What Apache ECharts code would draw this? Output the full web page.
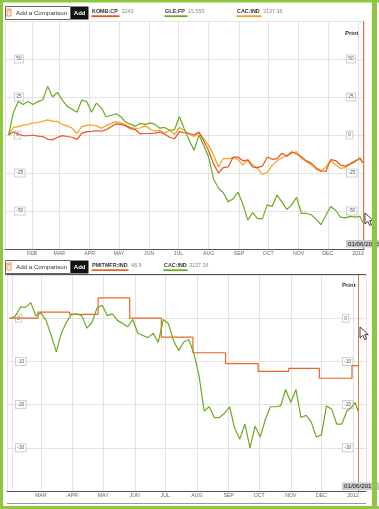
<!DOCTYPE html>
<html><head><meta charset="utf-8">
<script src="https://cdn.jsdelivr.net/npm/echarts@6/dist/echarts.min.js"></script>
<style>html,body{margin:0;padding:0;background:#fff;}#c{width:379px;height:509px;}</style>
</head><body><div id="c"></div>
<script>
// ---------- DATA ----------
const topDates = ['2011-01-08','2011-01-13','2011-01-18','2011-01-23','2011-01-28','2011-02-02','2011-02-07','2011-02-12','2011-02-17','2011-02-22','2011-02-27','2011-03-04','2011-03-09','2011-03-14','2011-03-19','2011-03-24','2011-03-29','2011-04-03','2011-04-08','2011-04-13','2011-04-18','2011-04-23','2011-04-28','2011-05-03','2011-05-08','2011-05-13','2011-05-18','2011-05-23','2011-05-28','2011-06-02','2011-06-07','2011-06-12','2011-06-17','2011-06-22','2011-06-27','2011-07-02','2011-07-07','2011-07-12','2011-07-17','2011-07-22','2011-07-27','2011-08-01','2011-08-06','2011-08-11','2011-08-16','2011-08-21','2011-08-26','2011-08-31','2011-09-05','2011-09-10','2011-09-15','2011-09-20','2011-09-25','2011-09-30','2011-10-05','2011-10-10','2011-10-15','2011-10-20','2011-10-25','2011-10-30','2011-11-04','2011-11-09','2011-11-14','2011-11-19','2011-11-24','2011-11-29','2011-12-04','2011-12-09','2011-12-14','2011-12-19','2011-12-24','2011-12-29','2012-01-03','2012-01-06'];
const kombValues = [0,2,0.5,-0.5,-0.5,0,-0.8,-1,-2.8,-3.2,-1.5,-0.4,-1,-1.5,-2.9,1.1,2.2,2.4,2.8,2.5,3.5,5.5,7.3,7,6,4.2,3.5,0.8,1,1,1.2,2,0.5,-1.5,-2.5,2.2,1.5,1,0,2,-4,-10.5,-19,-25,-21.5,-21,-14.5,-14.5,-17,-16.5,-21,-21.5,-20.5,-14.5,-16,-15.5,-12,-14,-11,-12.5,-14.3,-17,-18.5,-21.5,-23.5,-24,-16.2,-16.8,-19.8,-20.5,-19,-17.5,-15.2,-18.5];
const gleValues = [0,15,22,20,22,20,22,23,32,25,28,23,19,17,15,23,22,15,21,18,12,13,14,12,8.5,7,5.8,7.7,7,8,7,4.5,5,3,3.5,12,4,-3.5,-10,0,-7,-14.5,-29,-35,-38,-44,-42,-37.5,-45.5,-56,-51,-55,-55,-46,-47,-39.5,-44,-49,-46,-41,-51.5,-51.5,-52.5,-55.5,-59,-53,-47,-49.5,-54,-54.5,-53.5,-54,-53.5,-57.5];
const cacTopValues = [0,5,5.5,6.5,7,7.9,8.2,9,9.9,9,9,7,6,4.5,1,5.5,6.3,6.6,6,4.5,6.3,7.5,8.8,7.8,6.8,5,4.4,4.6,6,4,2.5,3,1.2,3.2,0.3,5,3,0.5,-1,1.5,-2.5,-7,-13,-21,-15.5,-15.5,-15,-16,-20,-16,-19.5,-22,-26,-24.5,-20,-17,-15,-13.5,-12,-11,-15.5,-17.5,-19.5,-22.5,-24,-21,-16.8,-19.7,-22,-21.5,-19,-17,-15.5,-18];

const bottomDates = ['2011-01-30','2011-02-04','2011-02-09','2011-02-14','2011-02-19','2011-02-24','2011-03-01','2011-03-06','2011-03-11','2011-03-16','2011-03-21','2011-03-26','2011-03-31','2011-04-05','2011-04-10','2011-04-15','2011-04-20','2011-04-25','2011-04-30','2011-05-05','2011-05-10','2011-05-15','2011-05-20','2011-05-25','2011-05-30','2011-06-04','2011-06-09','2011-06-14','2011-06-19','2011-06-24','2011-06-29','2011-07-04','2011-07-09','2011-07-14','2011-07-19','2011-07-24','2011-07-29','2011-08-03','2011-08-08','2011-08-13','2011-08-18','2011-08-23','2011-08-28','2011-09-02','2011-09-07','2011-09-12','2011-09-17','2011-09-22','2011-09-27','2011-10-02','2011-10-07','2011-10-12','2011-10-17','2011-10-22','2011-10-27','2011-11-01','2011-11-06','2011-11-11','2011-11-16','2011-11-21','2011-11-26','2011-12-01','2011-12-06','2011-12-11','2011-12-16','2011-12-21','2011-12-26','2011-12-31','2012-01-03','2012-01-06'];
const cacBottomValues = [0,0.5,2.6,2.5,3.6,0.5,1.2,-0.5,-4,-7.8,-3.5,-0.9,0.9,1,0.6,-2.3,-1,2.4,3,0.6,1,-0.5,-1.2,-2,-0.3,-3.5,-4,-4.5,-3.5,-5.6,-0.3,-1.3,-5.2,-7.5,-5.5,-5,-8.2,-13.3,-21.5,-20.5,-23,-23,-22,-20.5,-25.5,-28,-24.5,-30,-25,-27.5,-23.5,-20.5,-20.5,-20.3,-16.5,-19.5,-16.5,-23,-22.5,-24,-27.5,-27,-20.3,-21,-24.5,-24.5,-21.5,-20.5,-19.5,-21.5];
const pmiDates = ['2011-01-29','2011-02-26','2011-03-29','2011-04-26','2011-05-27','2011-06-27','2011-07-28','2011-08-29','2011-09-30','2011-10-30','2011-11-29','2011-12-31','2012-01-06'];
const pmiValues = [0,1.4,0.9,4.7,0,-4.4,-8.0,-10.5,-12.3,-11.6,-13.9,-11.0,-11.0];

const topSeriesNames = ['KOMB:CP','GLE:FP','CAC:IND'];
const topLastValues = ['3243','15.555','3137.36'];
const bottomSeriesNames = ['PMITMFR:IND','CAC:IND'];
const bottomLastValues = ['48.9','3137.36'];
const topMonthLabels = ['FEB','MAR','APR','MAY','JUN','JUL','AUG','SEP','OCT','NOV','DEC','2012'];
const bottomMonthLabels = ['MAR','APR','MAY','JUN','JUL','AUG','SEP','OCT','NOV','DEC','2012'];
const topYLabels = ['50','25','0','-25','-50'];
const bottomYLabels = ['0','-10','-20','-30'];
const cursorDate = '2012-01-06';
const cursorText = '01/06/2012';

// ---------- STYLE ----------
const C_KOMB = '#e8531f', C_GLE = '#6cab22', C_CAC = '#f6a21c', C_PMI = '#e9662a';
const FONT = 'Liberation Sans';
const GRID_C = '#e3e3e3';
const MON = ['JAN','FEB','MAR','APR','MAY','JUN','JUL','AUG','SEP','OCT','NOV','DEC'];
function monthFormatter(labels) {
  return function (v) {
    const d = new Date(v);
    if (d.getDate() !== 1 || d.getHours() !== 0) return '';
    const key = d.getMonth() === 0 ? String(d.getFullYear()) : MON[d.getMonth()];
    return labels.indexOf(key) >= 0 ? key : '';
  };
}
function yFormatter(labels) {
  return function (v) { const s = String(v); return labels.indexOf(s) >= 0 ? s : ''; };
}
const zip = (a, b) => a.map((d, i) => [d, b[i]]);
const DAY = 86400000;

function xAxisCfg(gi, min, max, labels) {
  return {
    type: 'time', gridIndex: gi, min: min, max: max,
    splitNumber: 12, minInterval: 30 * DAY, maxInterval: 30 * DAY,
    axisLine: { onZero: false, lineStyle: { color: '#555', width: 1 } },
    axisTick: { show: false },
    axisLabel: { fontSize: 5.2, color: '#666', margin: 2.5, fontFamily: FONT,
      showMinLabel: false, showMaxLabel: false, formatter: monthFormatter(labels) },
    splitLine: { show: true, lineStyle: { color: GRID_C, width: 1 } }
  };
}
function yAxisCfg(gi, pos, min, max, itv, labels, margin, split) {
  return {
    type: 'value', gridIndex: gi, position: pos, min: min, max: max, interval: itv,
    axisLine: { show: false }, axisTick: { show: false },
    splitLine: { show: split, lineStyle: { color: GRID_C, width: 1 } },
    axisLabel: { inside: true, margin: margin, align: 'left', fontSize: 4.8, color: '#555',
      fontFamily: FONT, backgroundColor: '#fff', borderColor: '#cfcfcf', borderWidth: 1,
      padding: [1, 1.3], showMinLabel: false, showMaxLabel: false, formatter: yFormatter(labels) }
  };
}
function lineSeries(name, xi, yi, data, color, extra) {
  return Object.assign({
    name: name, type: 'line', xAxisIndex: xi, yAxisIndex: yi, data: data,
    showSymbol: false, symbol: 'none', animation: false,
    lineStyle: { color: color, width: 1.2 }, itemStyle: { color: color }
  }, extra || {});
}
function cursorLine() {
  return { silent: true, symbol: ['none', 'none'], label: { show: false },
    lineStyle: { color: '#e8773f', width: 1, type: 'solid' }, data: [{ xAxis: cursorDate }] };
}

// header graphics
function header(y0, names, values, colors, nameX, valX, ulW) {
  const els = [
    { type: 'rect', shape: { x: 5.5, y: y0 + 0.5, width: 65, height: 13 }, style: { fill: '#fff', stroke: '#666', lineWidth: 1 } },
    { type: 'rect', shape: { x: 7, y: y0 + 3, width: 4, height: 7 }, style: { fill: '#fff', stroke: '#e07a2a', lineWidth: 0.8 } },
    { type: 'text', x: 9, y: y0 + 6.7, style: { text: '?', fill: '#e07a2a', fontSize: 5, fontFamily: FONT, align: 'center', verticalAlign: 'middle' } },
    { type: 'text', x: 16, y: y0 + 7, style: { text: 'Add a Comparison', fill: '#333', fontSize: 6.2, fontFamily: FONT, verticalAlign: 'middle' } },
    { type: 'rect', shape: { x: 71, y: y0 + 0.5, width: 17.5, height: 13 }, style: { fill: '#111' } },
    { type: 'text', x: 79.7, y: y0 + 7, style: { text: 'Add', fill: '#fff', fontSize: 6, fontWeight: 'bold', fontFamily: FONT, align: 'center', verticalAlign: 'middle' } }
  ];
  names.forEach((n, i) => {
    els.push({ type: 'text', x: nameX[i], y: y0 + 5.2, style: { text: n, fill: '#333', fontSize: 5.4, fontWeight: 'bold', fontFamily: FONT, verticalAlign: 'middle' } });
    els.push({ type: 'text', x: valX[i], y: y0 + 5.2, style: { text: values[i], fill: '#888', fontSize: 5.4, fontFamily: FONT, verticalAlign: 'middle' } });
    els.push({ type: 'rect', shape: { x: nameX[i] - 0.5, y: y0 + 9.3, width: ulW[i], height: 1.8 }, style: { fill: colors[i] } });
  });
  return els;
}
function arrow(x, y) {
  return { type: 'polygon', shape: { points: [[x, y], [x, y + 11], [x + 2.8, y + 8.3], [x + 4.8, y + 12.6], [x + 6.6, y + 11.8], [x + 4.7, y + 7.6], [x + 8.3, y + 7.6]] },
    style: { fill: '#fff', stroke: '#111', lineWidth: 0.8 }, z: 50 };
}

const graphics = [].concat(
  header(6, topSeriesNames, topLastValues, [C_KOMB, C_GLE, C_CAC], [92, 165, 237], [121.5, 188, 263], [28, 23, 25]),
  header(260, bottomSeriesNames, bottomLastValues, [C_PMI, C_GLE], [92, 164], [131, 189], [37, 24]),
  [
    { type: 'line', shape: { x1: 5, y1: 21.5, x2: 364, y2: 21.5 }, style: { stroke: '#555', lineWidth: 1 } },
    { type: 'line', shape: { x1: 5, y1: 274.5, x2: 366, y2: 274.5 }, style: { stroke: '#555', lineWidth: 1 } },
    { type: 'line', shape: { x1: 7, y1: 503.5, x2: 366, y2: 503.5 }, style: { stroke: '#999', lineWidth: 1 } },
    { type: 'text', x: 345, y: 33, style: { text: 'Print', fill: '#333', fontSize: 6, fontWeight: 'bold', fontFamily: FONT, verticalAlign: 'middle' } },
    { type: 'text', x: 342, y: 285.7, style: { text: 'Print', fill: '#333', fontSize: 6, fontWeight: 'bold', fontFamily: FONT, verticalAlign: 'middle' } },
    { type: 'rect', shape: { x: 346, y: 240, width: 40, height: 7.5 }, style: { fill: '#c9c9c9' }, z: 40 },
    { type: 'text', x: 348, y: 244, style: { text: cursorText, fill: '#222', fontSize: 6.2, fontFamily: FONT, verticalAlign: 'middle' }, z: 41 },
    { type: 'rect', shape: { x: 342, y: 482.5, width: 40, height: 7.5 }, style: { fill: '#c9c9c9' }, z: 40 },
    { type: 'text', x: 344, y: 486.5, style: { text: cursorText, fill: '#222', fontSize: 6.2, fontFamily: FONT, verticalAlign: 'middle' }, z: 41 },
    arrow(365, 213), arrow(360, 327),
    { type: 'rect', shape: { x: 0, y: 0, width: 3, height: 509 }, style: { fill: '#8fc73e' }, z: 100 },
    { type: 'rect', shape: { x: 0, y: 0, width: 379, height: 2.5 }, style: { fill: '#8fc73e' }, z: 100 },
    { type: 'rect', shape: { x: 372, y: 0, width: 5, height: 509 }, style: { fill: '#8fc73e' }, z: 100 },
    { type: 'rect', shape: { x: 0, y: 506, width: 379, height: 3 }, style: { fill: '#8fc73e' }, z: 100 }
  ]
);

const chart = echarts.init(document.getElementById('c'), null, { renderer: 'canvas' });
chart.setOption({
  animation: false,
  backgroundColor: '#fff',
  grid: [
    { left: 5, right: 15, top: 21, height: 228 },
    { left: 7, right: 13, top: 275, height: 216 }
  ],
  xAxis: [
    xAxisCfg(0, new Date(2011, 0, 4, 8).getTime(), new Date(2012, 0, 7, 2).getTime(), topMonthLabels),
    xAxisCfg(1, new Date(2011, 0, 26, 16).getTime(), new Date(2012, 0, 13, 18).getTime(), bottomMonthLabels)
  ],
  yAxis: [
    yAxisCfg(0, 'left', -75, 75, 25, topYLabels, 10, true),
    yAxisCfg(0, 'right', -75, 75, 25, topYLabels, 17, false),
    yAxisCfg(1, 'left', -40, 10, 10, bottomYLabels, 9, true),
    yAxisCfg(1, 'right', -40, 10, 10, bottomYLabels, 23, false)
  ],
  series: [
    lineSeries(topSeriesNames[2], 0, 0, zip(topDates, cacTopValues), C_CAC),
    lineSeries(topSeriesNames[0], 0, 0, zip(topDates, kombValues), C_KOMB, { markLine: cursorLine() }),
    lineSeries(topSeriesNames[1], 0, 0, zip(topDates, gleValues), C_GLE),
    lineSeries(bottomSeriesNames[0], 1, 2, zip(pmiDates, pmiValues), C_PMI, { step: 'end', markLine: cursorLine() }),
    lineSeries(bottomSeriesNames[1], 1, 2, zip(bottomDates, cacBottomValues), C_GLE)
  ],
  graphic: graphics
});
</script></body></html>
